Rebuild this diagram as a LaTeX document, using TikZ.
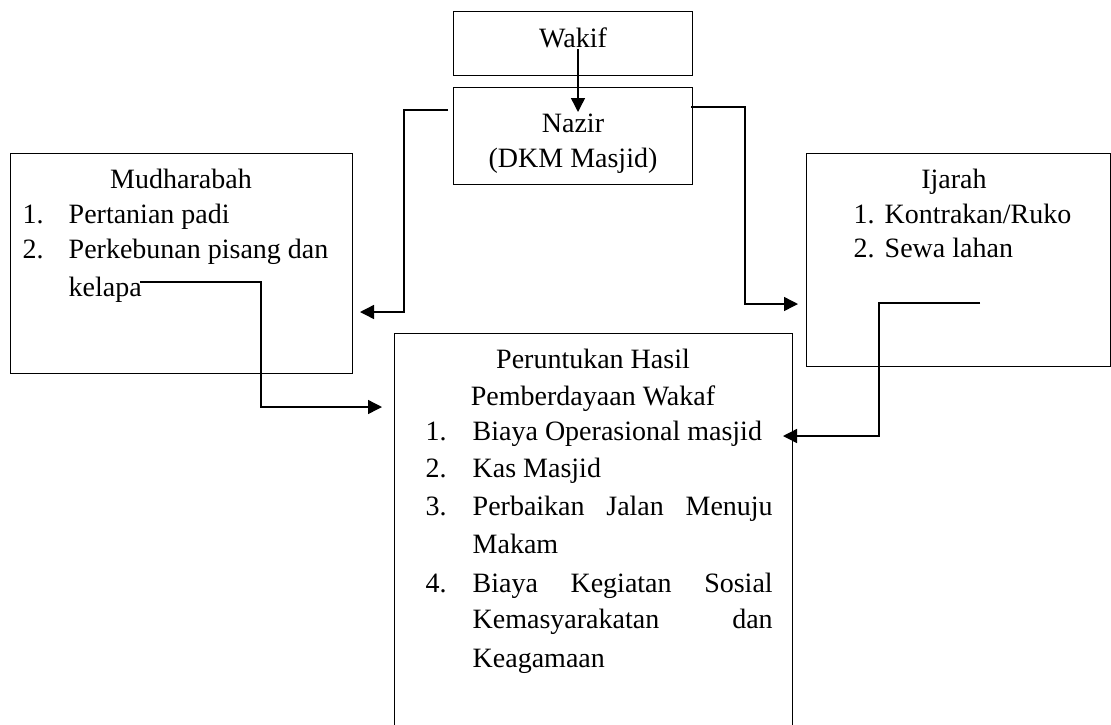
\documentclass[tikz,border=0pt]{standalone}
\usepackage{fontspec}
\setmainfont{Liberation Serif}
\usetikzlibrary{arrows.meta}

\begin{document}
\begin{tikzpicture}[x=1pt, y=-1pt, line width=1.4pt,
    box/.style={draw, anchor=north west, inner sep=0pt},
    txt/.style={font=\fontsize{28}{37}\selectfont, inner sep=0pt, anchor=base west},
    ttl/.style={txt, anchor=base},
    arr/.style={-{Triangle[length=14pt, width=14pt]}}]
    \useasboundingbox (0,0) rectangle (1111,724);
    % boxes
    \node[box, minimum width=239pt, minimum height=64pt] (wakif) at (453,11) {};
    \node[box, minimum width=239pt, minimum height=97pt] (nazir) at (453,87) {};
    \node[box, minimum width=342pt, minimum height=220pt] (mudh) at (10,153) {};
    \node[box, minimum width=304pt, minimum height=213pt] (ijarah) at (806,153) {};
    \node[box, minimum width=398pt, minimum height=420pt] (hasil) at (394,333) {};
    % texts
    \node[ttl] (wakif-t) at (573,47) {Wakif};
    \node[ttl] (nazir-t1) at (573,132) {Nazir};
    \node[ttl] (nazir-t2) at (573,167) {(DKM Masjid)};
    \node[ttl] (mudh-t) at (181,188) {Mudharabah};
    \node[txt] (mudh-n1) at (22,223) {1.};
    \node[txt] (mudh-i1) at (68,223) {Pertanian padi};
    \node[txt] (mudh-n2) at (22,258) {2.};
    \node[txt] (mudh-i2) at (68,258) {Perkebunan pisang dan};
    \node[txt] (mudh-i2b) at (68,296) {kelapa};
    \node[ttl] (ijarah-t) at (954,188) {Ijarah};
    \node[txt] (ijarah-n1) at (853,223) {1.};
    \node[txt] (ijarah-i1) at (884,223) {Kontrakan/Ruko};
    \node[txt] (ijarah-n2) at (853,257) {2.};
    \node[txt] (ijarah-i2) at (884,257) {Sewa lahan};
    \node[ttl] (hasil-t1) at (593,368) {Peruntukan Hasil};
    \node[ttl] (hasil-t2) at (593,405) {Pemberdayaan Wakaf};
    \node[txt] (hasil-n1) at (425,440) {1.};
    \node[txt] (hasil-i1) at (472,440) {Biaya Operasional masjid};
    \node[txt] (hasil-n2) at (425,477) {2.};
    \node[txt] (hasil-i2) at (472,477) {Kas Masjid};
    \node[txt] (hasil-n3) at (425,515) {3.};
    \node[txt] (hasil-i3) at (472,515) {\hbox to 300pt{Perbaikan\hfill Jalan\hfill Menuju}};
    \node[txt] (hasil-i3b) at (472,553) {Makam};
    \node[txt] (hasil-n4) at (425,592) {4.};
    \node[txt] (hasil-i4) at (472,592) {\hbox to 300pt{Biaya\hfill Kegiatan\hfill Sosial}};
    \node[txt] (hasil-i4b) at (472,628) {\hbox to 300pt{Kemasyarakatan\hfill dan}};
    \node[txt] (hasil-i4c) at (472,667) {Keagamaan};
    % connectors
    \coordinate (wakif-out) at (578,49);
    \coordinate (nazir-in) at (578,112);
    \coordinate (nazir-l) at (448,110);
    \coordinate (mudh-in) at (360,312);
    \coordinate (nazir-r) at (691,107);
    \coordinate (ijarah-in) at (798,304);
    \coordinate (kelapa-out) at (140,282);
    \coordinate (hasil-l) at (382,407);
    \coordinate (ijarah-out) at (980,303);
    \coordinate (hasil-r) at (783,436);
    \draw[arr] (wakif-out) -- (nazir-in);
    \draw[arr] (nazir-l) -- (404,110) |- (mudh-in);
    \draw[arr] (nazir-r) -- (745,107) |- (ijarah-in);
    \draw[arr] (kelapa-out) -- (261,282) |- (hasil-l);
    \draw[arr] (ijarah-out) -- (879,303) |- (hasil-r);
\end{tikzpicture}
\end{document}
